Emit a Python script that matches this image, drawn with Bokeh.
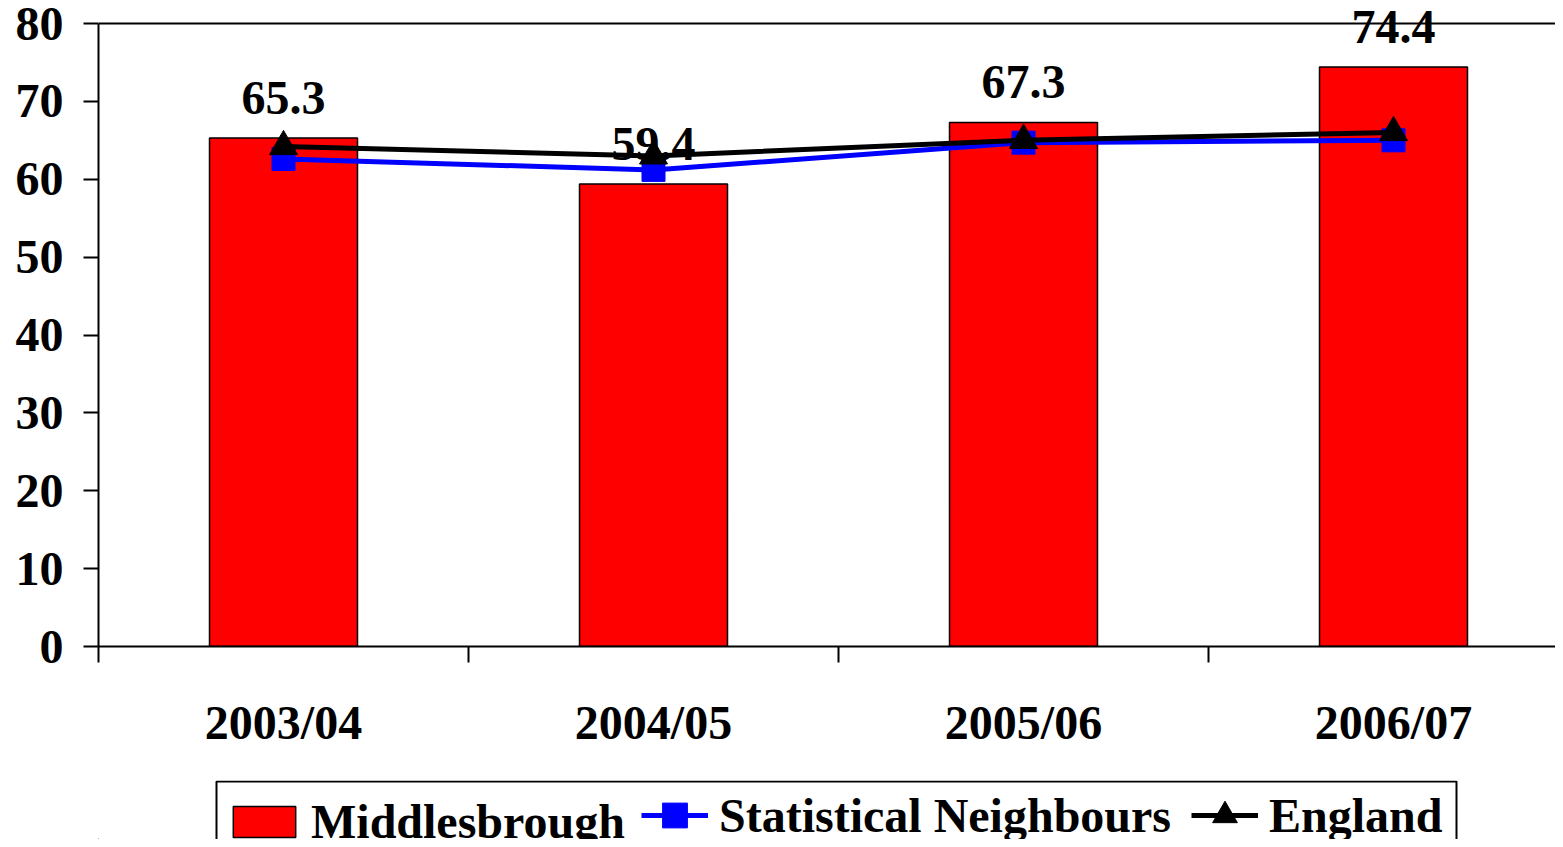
from bokeh.plotting import figure
from bokeh.layouts import column
from bokeh.models import (ColumnDataSource, Range1d, FixedTicker, Legend, LegendItem,
                          Span, BoxAnnotation)
from bokeh.core.properties import value
from bokeh.embed import file_html
from bokeh.resources import INLINE

categories = ["2003/04", "2004/05", "2005/06", "2006/07"]
middlesbrough = [65.3, 59.4, 67.3, 74.4]
stat_neighbours = [62.6, 61.2, 64.7, 65.0]
england = [64.2, 63.0, 65.0, 66.0]
y_ticks = [0, 10, 20, 30, 40, 50, 60, 70, 80]
series_names = ["Middlesbrough", "Statistical Neighbours", "England"]

FONT = "Liberation Serif"
FS = "48px"
RED, BLUE, BLACK = "#FF0000", "#0000FF", "#000000"

xs = [i + 0.5 for i in range(len(categories))]
src = ColumnDataSource(dict(x=xs, cat=categories, mb=middlesbrough,
                            sn=stat_neighbours, en=england,
                            lbl=[f"{v:.1f}" for v in middlesbrough]))

# frame: top of figure at y=0, value 80 at 23px, value 0 at 646px
px_per_unit = (646 - 23) / 80.0
y_top = 80 + 23 / px_per_unit

p = figure(width=1555, height=780, output_backend="svg", toolbar_location=None,
           x_range=Range1d(0, (1555 - 98) / 370.0), y_range=Range1d(0, y_top),
           min_border_left=98, min_border_right=0, min_border_top=0,
           min_border_bottom=780 - 646)
p.outline_line_color = None
p.xgrid.visible = False
p.ygrid.visible = False
p.background_fill_color = "white"
p.border_fill_color = "white"


def draw_series(fig):
    b = fig.vbar(x="x", top="mb", width=0.4, bottom=0, source=src,
                 fill_color=RED, line_color=BLACK, line_width=1.5)
    l1 = fig.line(x="x", y="sn", source=src, line_color=BLUE, line_width=5)
    m1 = fig.scatter(x="x", y="sn", source=src, marker="square", size=23,
                     fill_color=BLUE, line_color=BLUE)
    l2 = fig.line(x="x", y="en", source=src, line_color=BLACK, line_width=5)
    m2 = fig.scatter(x="x", y="en", source=src, marker="triangle", size=28,
                     fill_color=BLACK, line_color=BLACK)
    return b, l1, m1, l2, m2


draw_series(p)

p.text(x="x", y="mb", text="lbl", source=src, y_offset=-40,
       text_font=value(FONT), text_font_style="bold", text_font_size=FS,
       text_align="center", text_baseline="alphabetic", text_color=BLACK)

p.add_layout(Span(location=80, dimension="width", line_color=BLACK, line_width=2))

# y axis
ya = p.yaxis[0]
ya.ticker = FixedTicker(ticks=y_ticks)
ya.bounds = (0, 80)
ya.axis_line_width = 2
ya.major_tick_line_width = 2
ya.major_tick_out = 15
ya.major_tick_in = 0
ya.minor_tick_line_color = None
ya.major_label_standoff = 20
ya.major_label_text_font = FONT
ya.major_label_text_font_style = "bold"
ya.major_label_text_font_size = FS
ya.major_label_text_color = BLACK

# x axis
xa = p.xaxis[0]
xa.ticker = FixedTicker(ticks=xs, minor_ticks=list(range(len(categories) + 1)))
xa.major_label_overrides = {x: c for x, c in zip(xs, categories)}
xa.axis_line_width = 2
xa.major_tick_line_color = None
xa.major_tick_out = 0
xa.major_tick_in = 0
xa.minor_tick_line_width = 2
xa.minor_tick_line_color = BLACK
xa.minor_tick_out = 16
xa.minor_tick_in = 0
xa.major_label_standoff = 33
xa.major_label_text_font = FONT
xa.major_label_text_font_style = "bold"
xa.major_label_text_font_size = FS
xa.major_label_text_color = BLACK

# legend strip: its ranges are offset far from the data, so only legend swatches show
LX0, LY0 = 5000, 5000
lg = figure(width=1555, height=59, output_backend="svg", toolbar_location=None,
            x_range=Range1d(LX0 + 98, LX0 + 1555), y_range=Range1d(LY0, LY0 + 59),
            x_axis_location=None, y_axis_location=None,
            min_border_left=0, min_border_right=0, min_border_top=0, min_border_bottom=0)
lg.grid.visible = False
lg.outline_line_color = None
lg.background_fill_color = "white"
lg.border_fill_color = "white"
r_bar, r_snl, r_sns, r_enl, r_ens = draw_series(lg)

lg.add_layout(BoxAnnotation(left=LX0 + 216, right=LX0 + 1456, top=LY0 + 58, bottom=LY0 - 100,
                            fill_alpha=0, line_color=BLACK, line_alpha=1, line_width=2))


def style_legend(leg):
    leg.label_text_font = FONT
    leg.label_text_font_style = "bold"
    leg.label_text_font_size = FS
    leg.label_text_color = BLACK
    leg.margin = 0
    leg.border_line_color = None
    leg.background_fill_alpha = 0


leg_a = Legend(items=[LegendItem(label=series_names[0], renderers=[r_bar])],
               orientation="horizontal", location=(127, -9.5))
style_legend(leg_a)
leg_a.glyph_width = 78
leg_a.glyph_height = 39
leg_a.label_standoff = 8
leg_a.padding = 17

leg_b = Legend(items=[
    LegendItem(label=series_names[1], renderers=[r_snl, r_sns]),
    LegendItem(label=series_names[2], renderers=[r_enl, r_ens]),
], orientation="horizontal", location=(543, -7))
style_legend(leg_b)
leg_b.glyph_width = 67
leg_b.glyph_height = 62
leg_b.label_standoff = 11
leg_b.spacing = 20
leg_b.padding = 10

lg.add_layout(leg_a, "center")
lg.add_layout(leg_b, "center")

layout = column(p, lg, spacing=0)
open("out.html", "w").write(file_html(layout, INLINE))
